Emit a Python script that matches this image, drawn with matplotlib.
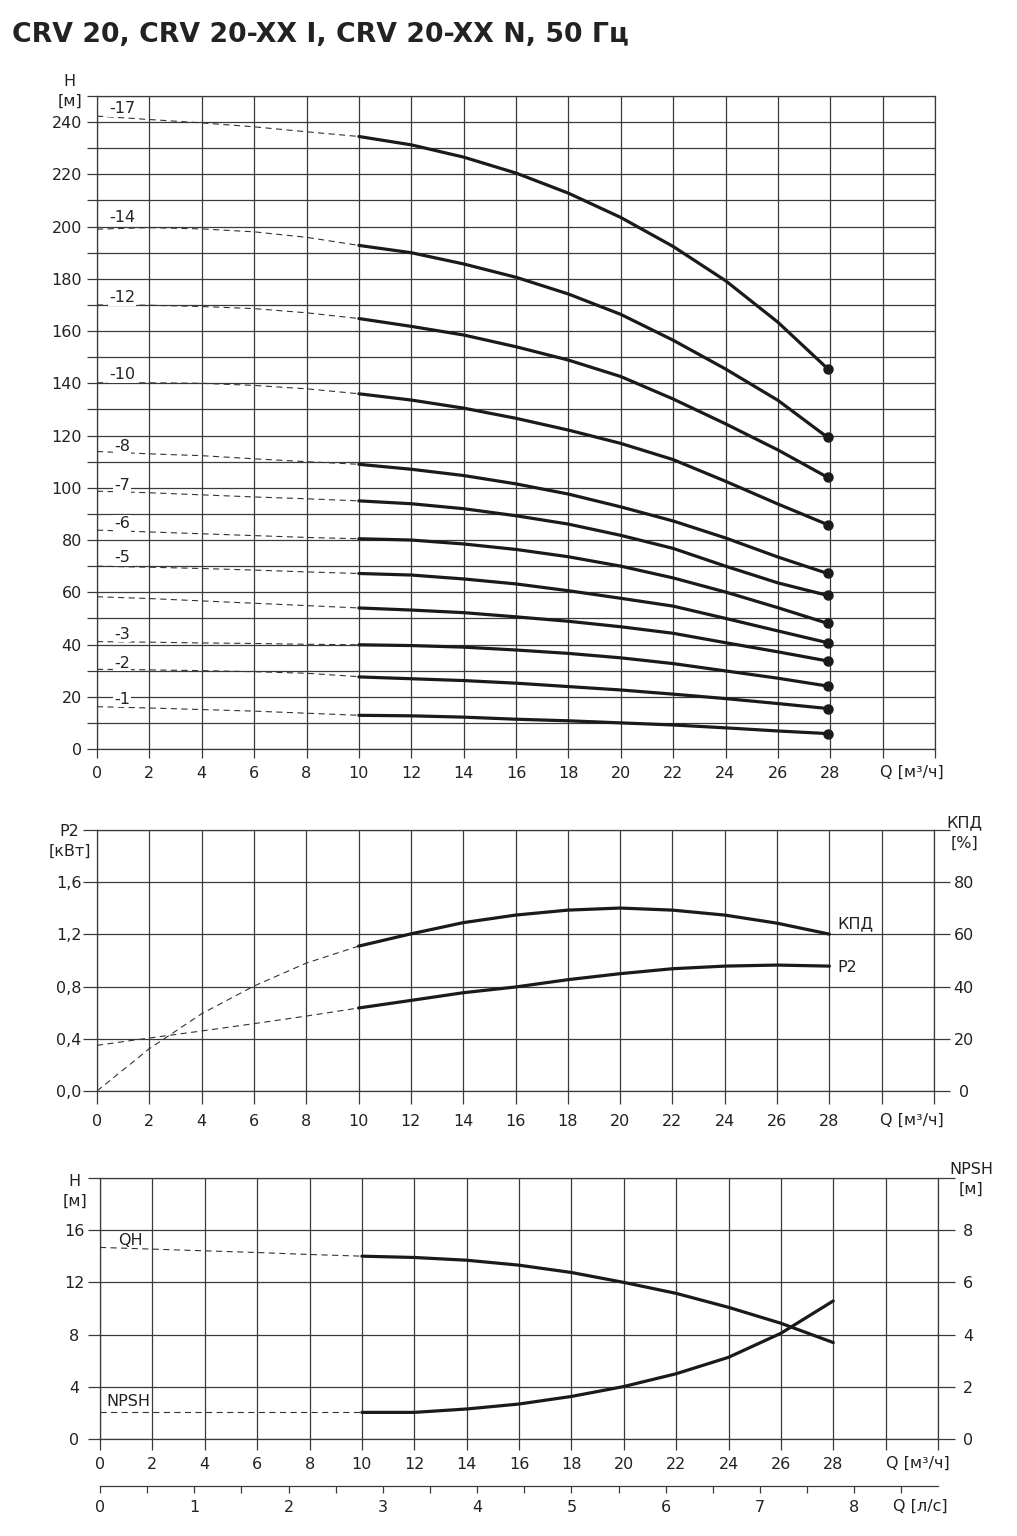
import matplotlib
matplotlib.use("Agg")
import matplotlib.pyplot as plt
from matplotlib.ticker import FixedLocator

plt.rcParams['font.family'] = ['DejaVu Sans']

# ---------------- data ----------------
# upper chart: Q-H curves, dashed part 0..10 m3/h, solid part 10..28 m3/h
q_dash = [0, 2, 4, 6, 8, 10]
q_solid = [10, 12, 14, 16, 18, 20, 22, 24, 26, 27.9]

stage_names = ['-17', '-14', '-12', '-10', '-8', '-7', '-6', '-5', '-4', '-3', '-2', '-1']
stage_labeled = [True, True, True, True, True, True, True, True, False, True, True, True]
label_y = [245.3, 203.3, 172.7, 143.3, 115.8, 100.9, 86.4, 73.4, 0, 44.0, 32.9, 19.1]

h_dash = [
    [242.3, 241.0, 239.7, 238.2, 236.3, 234.5],
    [199.0, 199.6, 199.1, 198.0, 195.9, 192.8],
    [170.0, 169.9, 169.4, 168.6, 167.0, 164.8],
    [140.2, 140.2, 140.0, 139.2, 137.9, 136.0],
    [113.9, 113.0, 112.3, 111.1, 110.0, 109.0],
    [98.7, 98.1, 97.3, 96.5, 95.8, 95.0],
    [83.8, 83.1, 82.4, 81.7, 81.0, 80.5],
    [70.0, 69.6, 69.1, 68.5, 67.8, 67.2],
    [58.3, 57.6, 56.7, 55.8, 54.9, 54.0],
    [41.1, 40.9, 40.6, 40.4, 40.1, 39.9],
    [30.5, 30.3, 30.0, 29.6, 29.0, 27.7],
    [16.2, 15.7, 15.1, 14.5, 13.7, 12.9],
]
h_solid = [
    [234.5, 231.3, 226.6, 220.5, 212.8, 203.5, 192.4, 179.3, 163.4, 145.6],
    [192.8, 190.0, 185.7, 180.6, 174.2, 166.4, 156.5, 145.5, 133.5, 119.3],
    [164.8, 161.8, 158.5, 154.0, 148.9, 142.6, 134.0, 124.5, 114.5, 104.0],
    [136.0, 133.6, 130.5, 126.6, 122.1, 117.0, 110.8, 102.5, 93.8, 85.9],
    [109.0, 107.1, 104.7, 101.5, 97.6, 92.7, 87.3, 80.8, 73.5, 67.2],
    [95.0, 93.9, 92.0, 89.3, 86.1, 81.8, 76.8, 70.0, 63.6, 58.8],
    [80.5, 80.0, 78.5, 76.4, 73.6, 70.0, 65.5, 60.1, 54.1, 48.1],
    [67.2, 66.6, 65.1, 63.2, 60.6, 57.7, 54.7, 50.0, 45.2, 40.7],
    [54.0, 53.2, 52.2, 50.6, 48.9, 46.8, 44.3, 40.7, 37.2, 33.7],
    [39.9, 39.6, 39.0, 37.9, 36.6, 34.9, 32.7, 29.9, 27.1, 24.1],
    [27.6, 26.9, 26.2, 25.2, 23.9, 22.6, 21.0, 19.3, 17.4, 15.5],
    [12.9, 12.7, 12.2, 11.4, 10.8, 10.0, 9.2, 8.1, 6.9, 5.9],
]

# middle chart: P2 [kW] and efficiency [%]
q_mid = [10, 12, 14, 16, 18, 20, 22, 24, 26, 28]
kpd_dash = [0.0, 16.2, 29.6, 40.2, 49.0, 55.5]
kpd_solid = [55.5, 60.2, 64.5, 67.4, 69.3, 70.1, 69.3, 67.4, 64.3, 60.1]
p2_dash = [0.35, 0.406, 0.46, 0.516, 0.574, 0.636]
p2_solid = [0.636, 0.694, 0.753, 0.797, 0.853, 0.899, 0.937, 0.957, 0.965, 0.957]

# lower chart: one-stage QH [m] and NPSH [m]
qh_dash = [14.68, 14.55, 14.42, 14.29, 14.14, 14.01]
qh_solid = [14.01, 13.91, 13.70, 13.32, 12.76, 12.00, 11.16, 10.09, 8.87, 7.39]
npsh_dash = [1.02, 1.02, 1.02, 1.02, 1.02, 1.02]
npsh_solid = [1.02, 1.02, 1.15, 1.34, 1.63, 2.01, 2.50, 3.13, 4.05, 5.29]

q_ticks = list(range(0, 33, 2))
q_labels = [str(v) for v in range(0, 29, 2)] + ['', '']

# ---------------- style ----------------
W, H = 1017, 1536
GRID = '#3a3a3a'
TXT = '#222222'
CURVE = '#1a1a1a'
FS = 11.5


def box(l, t, r, b):
    return [l / W, 1 - b / H, (r - l) / W, (b - t) / H]


def fpos(x, y):
    return x / W, 1 - y / H


def style(ax):
    for s in ax.spines.values():
        s.set_color(GRID)
        s.set_linewidth(0.9)
    ax.grid(True, which='both', color=GRID, lw=0.9)
    ax.tick_params(which='both', color=GRID, width=0.9, labelcolor=TXT, labelsize=FS)


def dashed(ax, x, y):
    ax.plot(x, y, color='#333333', lw=0.8, dashes=(5.5, 4), zorder=3)


def solid(ax, x, y):
    ax.plot(x, y, color=CURVE, lw=2.3, solid_capstyle='round', zorder=4)


fig = plt.figure(figsize=(W / 100, H / 100), dpi=100)
fig.text(*fpos(12, 35), 'CRV 20, CRV 20-XX I, CRV 20-XX N, 50 Гц',
         fontsize=19.3, fontweight='bold', color=TXT, ha='left', va='center')

# ---------------- upper chart ----------------
ax1 = fig.add_axes(box(97, 96, 935, 749))
ax1.set_xlim(0, 32)
ax1.set_ylim(0, 250)
ax1.set_xticks(q_ticks)
ax1.set_xticklabels(q_labels)
ax1.yaxis.set_major_locator(FixedLocator(list(range(0, 241, 20))))
ax1.yaxis.set_minor_locator(FixedLocator(list(range(10, 251, 20))))
style(ax1)
ax1.tick_params(axis='y', which='both', length=7.2, pad=3.6)
ax1.tick_params(axis='x', length=6.5, pad=5.9)

for i, name in enumerate(stage_names):
    dashed(ax1, q_dash, h_dash[i])
    solid(ax1, q_solid, h_solid[i])
    ax1.plot(q_solid[-1], h_solid[i][-1], 'o', ms=6.5, color=CURVE, zorder=5)
    if stage_labeled[i]:
        ax1.text(0.95, label_y[i], name, ha='center', va='center', fontsize=FS, color=TXT,
                 bbox=dict(fc='white', ec='none', pad=0.6), zorder=4)

fig.text(*fpos(69, 81), 'H', fontsize=FS, color=TXT, ha='center', va='center')
fig.text(*fpos(70, 101), '[м]', fontsize=FS, color=TXT, ha='center', va='center')
fig.text(*fpos(880, 772), 'Q [м³/ч]', fontsize=FS, color=TXT, ha='left', va='center')

# ---------------- middle chart ----------------
ax2 = fig.add_axes(box(97, 830, 934, 1091))
ax2.set_xlim(0, 32)
ax2.set_ylim(0, 2.0)
ax2.set_xticks(q_ticks)
ax2.set_xticklabels(q_labels)
ax2.set_yticks([0, 0.4, 0.8, 1.2, 1.6, 2.0])
ax2.set_yticklabels(['0,0', '0,4', '0,8', '1,2', '1,6', ''])
style(ax2)
ax2.tick_params(axis='y', length=10, pad=1.2)
ax2.tick_params(axis='x', length=9.4, pad=7.3)

ax2r = ax2.twinx()
ax2r.set_ylim(0, 100)
ax2r.set_yticks([0, 20, 40, 60, 80, 100])
ax2r.set_yticklabels(['0', '20', '40', '60', '80', ''])
ax2r.spines[:].set_visible(False)
ax2r.tick_params(axis='y', color=GRID, width=0.9, length=11.5, pad=10, labelcolor=TXT, labelsize=FS)
for lab in ax2r.get_yticklabels():
    lab.set_horizontalalignment('center')

dashed(ax2r, q_dash, kpd_dash)
solid(ax2r, q_mid, kpd_solid)
dashed(ax2, q_dash, p2_dash)
solid(ax2, q_mid, p2_solid)
ax2.text(28.3, 1.28, 'КПД', fontsize=FS, color=TXT, ha='left', va='center')
ax2.text(28.3, 0.95, 'P2', fontsize=FS, color=TXT, ha='left', va='center')

fig.text(*fpos(69, 832), 'P2', fontsize=FS, color=TXT, ha='center', va='center')
fig.text(*fpos(70, 851), '[кВт]', fontsize=FS, color=TXT, ha='center', va='center')
fig.text(*fpos(964, 823), 'КПД', fontsize=FS, color=TXT, ha='center', va='center')
fig.text(*fpos(964, 843), '[%]', fontsize=FS, color=TXT, ha='center', va='center')
fig.text(*fpos(880, 1120), 'Q [м³/ч]', fontsize=FS, color=TXT, ha='left', va='center')

# ---------------- lower chart ----------------
ax3 = fig.add_axes(box(100, 1178, 938, 1439))
ax3.set_xlim(0, 32)
ax3.set_ylim(0, 20)
ax3.set_xticks(q_ticks)
ax3.set_xticklabels(q_labels)
ax3.set_yticks([0, 4, 8, 12, 16, 20])
ax3.set_yticklabels(['0', '4', '8', '12', '16', ''])
style(ax3)
ax3.tick_params(axis='y', length=8.6, pad=9.9)
ax3.tick_params(axis='x', length=7.9, pad=5.2)
for lab in ax3.get_yticklabels():
    lab.set_horizontalalignment('center')

ax3r = ax3.twinx()
ax3r.set_ylim(0, 10)
ax3r.set_yticks([0, 2, 4, 6, 8, 10])
ax3r.set_yticklabels(['0', '2', '4', '6', '8', ''])
ax3r.spines[:].set_visible(False)
ax3r.tick_params(axis='y', color=GRID, width=0.9, length=12.2, pad=9.4, labelcolor=TXT, labelsize=FS)
for lab in ax3r.get_yticklabels():
    lab.set_horizontalalignment('center')

dashed(ax3, q_dash, qh_dash)
solid(ax3, q_mid, qh_solid)
dashed(ax3r, q_dash, npsh_dash)
solid(ax3r, q_mid, npsh_solid)
ax3.text(1.15, 15.2, 'QH', fontsize=FS, color=TXT, ha='center', va='center')
ax3.text(0.25, 2.85, 'NPSH', fontsize=FS, color=TXT, ha='left', va='center')

sec = ax3.secondary_xaxis(-0.1785, functions=(lambda q: q / 3.6, lambda l: l * 3.6))
sec.xaxis.set_major_locator(FixedLocator(list(range(0, 9))))
sec.xaxis.set_minor_locator(FixedLocator([k + 0.5 for k in range(0, 9)]))
sec.spines['bottom'].set_color(GRID)
sec.spines['bottom'].set_linewidth(0.9)
sec.tick_params(which='both', color=GRID, width=0.9, length=5, pad=5.2, labelcolor=TXT, labelsize=FS)

fig.text(*fpos(74, 1181), 'H', fontsize=FS, color=TXT, ha='center', va='center')
fig.text(*fpos(75, 1201), '[м]', fontsize=FS, color=TXT, ha='center', va='center')
fig.text(*fpos(971, 1169), 'NPSH', fontsize=FS, color=TXT, ha='center', va='center')
fig.text(*fpos(971, 1189), '[м]', fontsize=FS, color=TXT, ha='center', va='center')
fig.text(*fpos(886, 1463), 'Q [м³/ч]', fontsize=FS, color=TXT, ha='left', va='center')
fig.text(*fpos(893, 1506), 'Q [л/с]', fontsize=FS, color=TXT, ha='left', va='center')

fig.savefig('out.png', dpi=100, facecolor='white')
